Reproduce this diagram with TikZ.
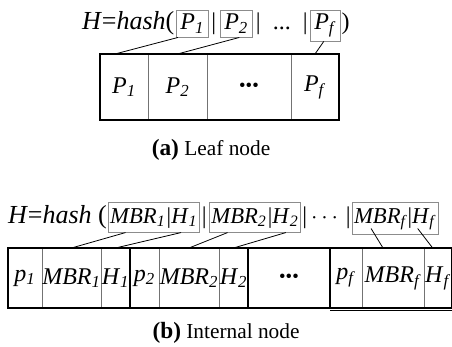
\documentclass[tikz,border=0pt]{standalone}
\usepackage{fontspec}
\setmainfont{Liberation Serif}
\usepackage{amsmath, bm}
\usetikzlibrary{positioning, calc}

\newcommand{\sbs}[1]{\textsubscript{\textit{#1}}}
\newcommand{\bigdots}{{\fontsize{14}{15}\selectfont\textbullet\textbullet\textbullet}}

\begin{document}
\begin{tikzpicture}[
        x=0.75pt, y=-0.75pt,
        every node/.style={font=\fontsize{18}{20}\selectfont},
        cell/.style={draw=black!55, line width=0.6pt, inner sep=0pt, outer sep=0pt},
        leafcell/.style={cell, minimum height=49.5pt},
        intcell/.style={cell, minimum height=45pt},
        hbox/.style={draw=black!45, line width=0.6pt, inner xsep=3pt, inner ysep=3pt, outer sep=0pt},
        hboxb/.style={hbox, inner xsep=1.5pt, inner ysep=3.5pt, font=\fontsize{17}{19}\selectfont},
        txt/.style={inner sep=0pt, outer sep=0pt},
        hashtxt/.style={txt, font=\fontsize{19.5}{21}\selectfont},
        link/.style={line width=0.6pt},
        frame/.style={line width=0.9pt},
        caption/.style={font=\fontsize{16}{18}\selectfont}
    ]
        \useasboundingbox (0,0) rectangle (452,346);

        % (a) hash de la hoja
        \node[hashtxt, anchor=base west] (hashA) at (82,30) {\textit{H}=\textit{hash}(};
        \node[hbox, base right=1.5pt of hashA] (boxP1) {\textit{P}\sbs{1}};
        \node[txt, base right=2.5pt of boxP1] (barA1) {|};
        \node[hbox, base right=3pt of barA1] (boxP2) {\textit{P}\sbs{2}};
        \node[txt, base right=3pt of boxP2] (barA2) {|\ \ ...\ \ |};
        \node[hbox, base right=2pt of barA2] (boxPf) {\textit{P}\sbs{f}};
        \node[txt, base right=1pt of boxPf] (closeA) {)};

        % (a) celdas de la hoja
        \node[leafcell, minimum width=36pt, anchor=north west] (p1) at (100,54) {\textit{P}\sbs{1}};
        \node[leafcell, minimum width=44.25pt, right=0pt of p1] (p2) {\textit{P}\sbs{2}};
        \node[leafcell, minimum width=63pt, right=0pt of p2] (pdots) {\bigdots};
        \node[leafcell, minimum width=36pt, right=0pt of pdots] (pf) {\textit{P}\sbs{f}};
        \draw[frame] (p1.north west) rectangle (pf.south east);

        \draw[link] ($(boxP1.south west)!0.05!(boxP1.south east)$) -- ([xshift=-6.75pt]p1.north);
        \draw[link] ($(boxP2.south west)!0.6!(boxP2.south east)$) -- (p2.north);
        \draw[link] ($(boxPf.south west)!0.45!(boxPf.south east)$) -- (pf.north);

        \node[caption] (capA) at (211,150) {{\fontsize{17.5}{19}\selectfont\textbf{(a)}} Leaf node};

        % (b) hash del nodo interno
        \node[hashtxt, anchor=base west] (hashB) at (8,223) {\textit{H}=\textit{hash} (};
        \node[hboxb, base right=1pt of hashB] (boxM1) {\textit{MBR}\sbs{1}\hspace{1pt}|\textit{H}\sbs{1}};
        \node[txt, base right=2pt of boxM1] (barB1) {|};
        \node[hboxb, base right=2pt of barB1] (boxM2) {\textit{MBR}\sbs{2}\hspace{1pt}|\textit{H}\sbs{2}};
        \node[txt, base right=1.5pt of boxM2] (barB2) {|\,$\cdots$\,|};
        \node[hboxb, base right=1pt of barB2] (boxMf) {\textit{MBR}\sbs{f}|\textit{H}\sbs{f}};

        % (b) celdas del nodo interno
        \node[intcell, minimum width=25.5pt, anchor=north west] (q1) at (8,248) {\textit{p}\sbs{1}};
        \node[intcell, minimum width=44.25pt, right=0pt of q1] (mbr1) {\textit{MBR}\sbs{1}};
        \node[intcell, minimum width=21.75pt, right=0pt of mbr1] (h1) {\textit{H}\sbs{1}};
        \node[intcell, minimum width=21.75pt, right=0pt of h1] (q2) {\textit{p}\sbs{2}};
        \node[intcell, minimum width=45pt, right=0pt of q2] (mbr2) {\textit{MBR}\sbs{2}};
        \node[intcell, minimum width=21.75pt, right=0pt of mbr2] (h2) {\textit{H}\sbs{2}};
        \node[intcell, minimum width=61.5pt, right=0pt of h2] (qdots) {\bigdots};
        \node[intcell, minimum width=24pt, right=0pt of qdots] (qf) {\textit{p}\sbs{f}};
        \node[intcell, minimum width=46.5pt, right=0pt of qf] (mbrf) {\textit{MBR}\sbs{f}};
        \node[intcell, minimum width=21pt, right=0pt of mbrf] (hf) {\textit{H}\sbs{f}};

        \draw[frame] (q1.north west) rectangle (hf.south east);
        \draw[line width=1.8pt] (h1.north east) -- (h1.south east);
        \draw[frame] (h2.north east) -- (h2.south east);
        \draw[frame] (qf.north west) -- (qf.south west);
        \draw[link] ([yshift=-1.5pt]qf.south west) -- ([yshift=-1.5pt]hf.south east);

        \draw[link] ($(boxM1.south west)!0.19!(boxM1.south east)$) -- (mbr1.north);
        \draw[link] ($(boxM1.south west)!0.8!(boxM1.south east)$) -- (h1.north);
        \draw[link] ($(boxM2.south west)!0.2!(boxM2.south east)$) -- (mbr2.north);
        \draw[link] ($(boxM2.south west)!0.84!(boxM2.south east)$) -- (h2.north);
        \draw[link] ([yshift=4.5pt]$(boxMf.south west)!0.22!(boxMf.south east)$) -- ([xshift=-7.5pt]mbrf.north);
        \draw[link] ([yshift=4.5pt]$(boxMf.south west)!0.76!(boxMf.south east)$) -- ([xshift=-4pt]hf.north);

        \node[caption] (capB) at (226,333) {{\fontsize{17.5}{19}\selectfont\textbf{(b)}} Internal node};
    \end{tikzpicture}
\end{document}
